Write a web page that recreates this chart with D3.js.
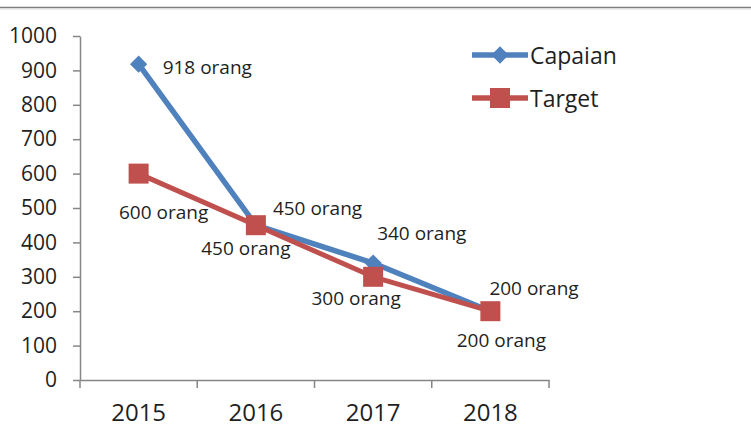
<!DOCTYPE html>
<html>
<head>
<meta charset="utf-8">
<script src="https://cdn.jsdelivr.net/npm/d3@7"></script>
<style>
  html, body { margin: 0; padding: 0; background: #fff; }
  svg { display: block; }
  text { font-family: "Open Sans", "Liberation Sans", sans-serif; fill: #1f1f1f; }
</style>
</head>
<body>
<div id="chart"></div>
<script>
// chart data
const years = ['2015', '2016', '2017', '2018'];
const capaian = [918, 450, 340, 200];
const target = [600, 450, 300, 200];
const yTicks = [0, 100, 200, 300, 400, 500, 600, 700, 800, 900, 1000];
const unit = 'orang';

// label offsets from each point (dx, dy, anchor)
const capaianLabelPos = [[24, 3, 'start'], [17, -17, 'start'], [4, -30, 'start'], [-1, -23, 'start']];
const targetLabelPos = [[25, 38, 'middle'], [-10, 23, 'middle'], [-17, 21, 'middle'], [11, 29, 'middle']];

const W = 751, H = 439;
const plot = { left: 80, right: 549, top: 36, bottom: 380 };
const blue = '#4F81BD', red = '#C0504D', axisColor = '#868686';

const svg = d3.select('#chart').append('svg')
  .attr('width', W).attr('height', H);

// top frame line
svg.append('line').attr('x1', 0).attr('x2', W).attr('y1', 7.5).attr('y2', 7.5)
  .attr('stroke', '#7f7f7f').attr('stroke-width', 1.5);
svg.append('line').attr('x1', 0).attr('x2', W).attr('y1', 9).attr('y2', 9)
  .attr('stroke', '#d9d9d9').attr('stroke-width', 1);

const x = d3.scaleBand().domain(years).range([plot.left, plot.right]).padding(0);
const y = d3.scaleLinear().domain([0, 1000]).range([plot.bottom, plot.top]);
const cx = d => x(d) + x.bandwidth() / 2;

// y axis
const yAxis = svg.append('g')
  .attr('transform', `translate(${plot.left},0)`)
  .call(d3.axisLeft(y).tickValues(yTicks).tickFormat(d3.format('d'))
    .tickSize(7).tickSizeOuter(0).tickPadding(16));
yAxis.select('.domain').attr('stroke', axisColor).attr('stroke-width', 1.5);
yAxis.selectAll('.tick line').attr('stroke', axisColor).attr('stroke-width', 1.5);
yAxis.selectAll('.tick text').attr('font-size', 21).attr('fill', '#1f1f1f')
  .attr('font-family', '"Open Sans", sans-serif');

// x axis: labels at band centers, ticks at band edges
const xAxis = svg.append('g')
  .attr('transform', `translate(0,${plot.bottom})`)
  .call(d3.axisBottom(x).tickSize(0).tickSizeOuter(0).tickPadding(24));
xAxis.select('.domain').attr('stroke', axisColor).attr('stroke-width', 1.5);
xAxis.selectAll('.tick text').attr('font-size', 24).attr('fill', '#1f1f1f')
  .attr('font-family', '"Open Sans", sans-serif');
const edges = years.map(d => x(d)).concat([x(years[years.length - 1]) + x.bandwidth()]);
xAxis.selectAll('.edge').data(edges).enter().append('line')
  .attr('class', 'edge')
  .attr('x1', d => d).attr('x2', d => d)
  .attr('y1', 0).attr('y2', 8)
  .attr('stroke', axisColor).attr('stroke-width', 1.5);

const line = d3.line().x(d => cx(d.year)).y(d => y(d.value));
const capData = years.map((yr, i) => ({ year: yr, value: capaian[i] }));
const tarData = years.map((yr, i) => ({ year: yr, value: target[i] }));

// Capaian series
svg.append('path').datum(capData)
  .attr('d', line).attr('fill', 'none')
  .attr('stroke', blue).attr('stroke-width', 5.5).attr('stroke-linejoin', 'round');
svg.selectAll('.cap-mark').data(capData).enter().append('path')
  .attr('class', 'cap-mark')
  .attr('d', d3.symbol().type(d3.symbolDiamond2).size(190))
  .attr('transform', d => `translate(${cx(d.year)},${y(d.value)})`)
  .attr('fill', blue);

// Target series
svg.append('path').datum(tarData)
  .attr('d', line).attr('fill', 'none')
  .attr('stroke', red).attr('stroke-width', 5).attr('stroke-linejoin', 'round');
svg.selectAll('.tar-mark').data(tarData).enter().append('rect')
  .attr('class', 'tar-mark')
  .attr('x', d => cx(d.year) - 10).attr('y', d => y(d.value) - 10)
  .attr('width', 20).attr('height', 20)
  .attr('fill', red);

// data labels
svg.selectAll('.cap-label').data(capData).enter().append('text')
  .attr('class', 'cap-label')
  .attr('x', (d, i) => cx(d.year) + capaianLabelPos[i][0])
  .attr('y', (d, i) => y(d.value) + capaianLabelPos[i][1])
  .attr('text-anchor', (d, i) => capaianLabelPos[i][2])
  .attr('dominant-baseline', 'central')
  .attr('font-size', 19)
  .text(d => `${d.value} ${unit}`);
svg.selectAll('.tar-label').data(tarData).enter().append('text')
  .attr('class', 'tar-label')
  .attr('x', (d, i) => cx(d.year) + targetLabelPos[i][0])
  .attr('y', (d, i) => y(d.value) + targetLabelPos[i][1])
  .attr('text-anchor', (d, i) => targetLabelPos[i][2])
  .attr('dominant-baseline', 'central')
  .attr('font-size', 19)
  .text(d => `${d.value} ${unit}`);

// legend
const legend = [
  { name: 'Capaian', color: blue, y: 55, shape: 'diamond' },
  { name: 'Target', color: red, y: 98, shape: 'square' }
];
const lg = svg.selectAll('.legend').data(legend).enter().append('g')
  .attr('class', 'legend')
  .attr('transform', d => `translate(0,${d.y})`);
lg.append('line').attr('x1', 472).attr('x2', 528).attr('y1', 0).attr('y2', 0)
  .attr('stroke', d => d.color).attr('stroke-width', 5.5);
lg.filter(d => d.shape === 'diamond').append('path')
  .attr('d', d3.symbol().type(d3.symbolDiamond2).size(190))
  .attr('transform', 'translate(500,0)')
  .attr('fill', d => d.color);
lg.filter(d => d.shape === 'square').append('rect')
  .attr('x', 490).attr('y', -10).attr('width', 20).attr('height', 20)
  .attr('fill', d => d.color);
lg.append('text').attr('x', 530).attr('y', 0)
  .attr('dominant-baseline', 'central')
  .attr('font-size', 23)
  .text(d => d.name);
</script>
</body>
</html>
